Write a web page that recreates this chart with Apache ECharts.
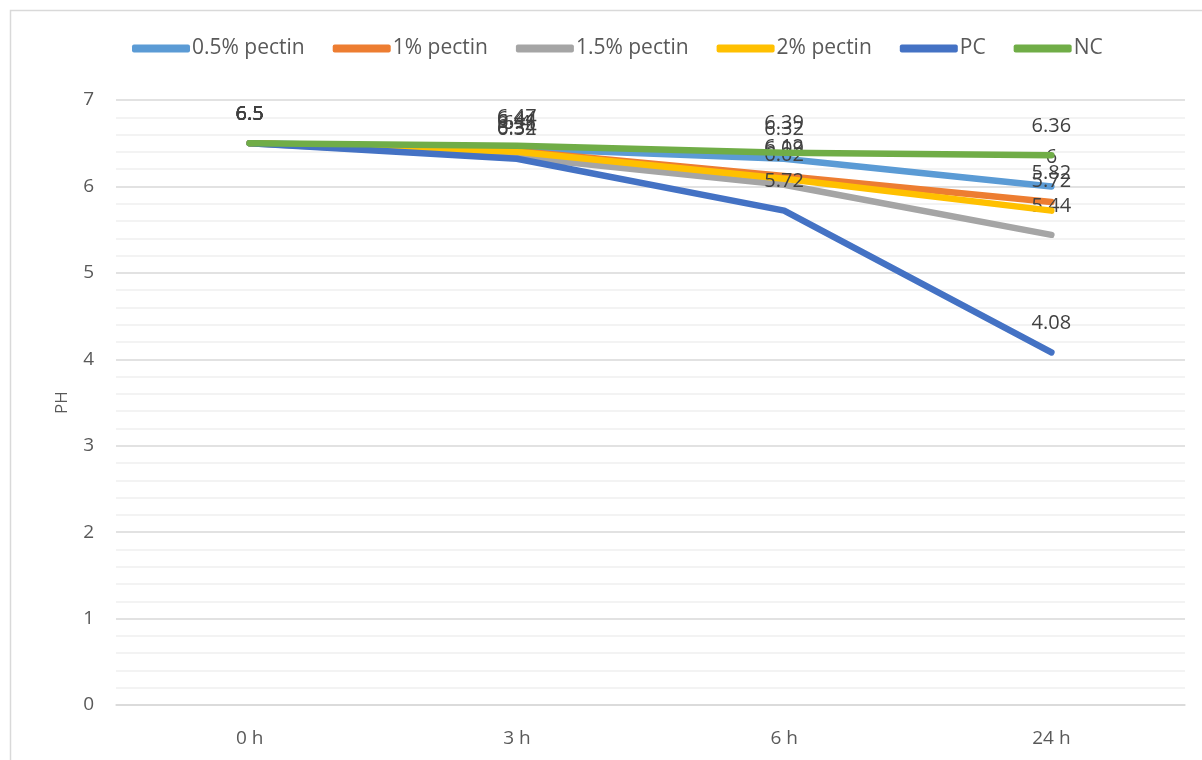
<!DOCTYPE html>
<html>
<head>
<meta charset="utf-8">
<script src="https://cdn.jsdelivr.net/npm/echarts@6/dist/echarts.min.js"></script>
<style>
  html, body { margin: 0; padding: 0; background: #fff; }
  #chart { width: 1202px; height: 760px; }
</style>
</head>
<body>
<div id="chart"></div>
<script>
// categories (time points)
var times = ["0 h", "3 h", "6 h", "24 h"];
var yTicks = [0, 1, 2, 3, 4, 5, 6, 7];

// pH values per group
var pectin05 = [6.5, 6.44, 6.32, 6];
var pectin1 = [6.5, 6.41, 6.12, 5.82];
var pectin15 = [6.5, 6.34, 6.02, 5.44];
var pectin2 = [6.5, 6.4, 6.09, 5.72];
var pc = [6.5, 6.32, 5.72, 4.08];
var nc = [6.5, 6.47, 6.39, 6.36];

var names = ["0.5% pectin", "1% pectin", "1.5% pectin", "2% pectin", "PC", "NC"];
var colors = ["#5B9BD5", "#ED7D31", "#A5A5A5", "#FFC000", "#4472C4", "#70AD47"];
var values = [pectin05, pectin1, pectin15, pectin2, pc, nc];

var font = "Open Sans, Noto Sans, sans-serif";
var chart = echarts.init(document.getElementById("chart"));

var series = values.map(function (v, i) {
    return {
        name: names[i],
        type: "line",
        data: v,
        showSymbol: true,
        symbol: "circle",
        symbolSize: 2,
        lineStyle: { width: 6.5, color: colors[i], cap: "round", join: "round" },
        itemStyle: { color: colors[i] },
        label: {
            show: true,
            position: "top",
            distance: 18,
            color: "#404040",
            fontSize: 20,
            fontFamily: font
        },
        labelLayout: { hideOverlap: false },
        emphasis: { disabled: true },
        z: 2 + i
    };
});

chart.setOption({
    animation: false,
    backgroundColor: "#fff",
    graphic: [{
        type: "rect",
        shape: { x: 10.5, y: 10.5, width: 1300, height: 900 },
        style: { fill: "none", stroke: "#d9d9d9", lineWidth: 1.5 },
        silent: true,
        z: -1
    }],
    legend: {
        top: 33,
        left: 127,
        itemWidth: 58,
        itemHeight: 8,
        itemGap: 28,
        icon: "roundRect",
        textStyle: {
            color: "#595959",
            fontSize: 21,
            fontFamily: font,
            padding: [0, 0, 0, -3]
        },
        data: names.map(function (n, i) {
            return { name: n, itemStyle: { color: colors[i], opacity: 1 } };
        })
    },
    grid: { left: 116, right: 17, top: 100, bottom: 55 },
    xAxis: {
        type: "category",
        data: times,
        boundaryGap: true,
        axisLine: { show: true, lineStyle: { color: "#d9d9d9", width: 1.5 } },
        axisTick: { show: false },
        axisLabel: { color: "#595959", fontSize: 19, margin: 24, fontFamily: font }
    },
    yAxis: {
        type: "value",
        min: yTicks[0],
        max: yTicks[yTicks.length - 1],
        interval: 1,
        name: "PH",
        nameLocation: "middle",
        nameGap: 45,
        nameTextStyle: { color: "#595959", fontSize: 17, fontFamily: font },
        axisLine: { show: false },
        axisTick: { show: false },
        axisLabel: { color: "#595959", fontSize: 19, margin: 22, fontFamily: font },
        splitLine: { lineStyle: { color: "#d9d9d9", width: 1.5 } },
        minorTick: { show: false, splitNumber: 5 },
        minorSplitLine: { show: true, lineStyle: { color: "#f0f0f0", width: 1.5 } }
    },
    series: series
});
</script>
</body>
</html>
